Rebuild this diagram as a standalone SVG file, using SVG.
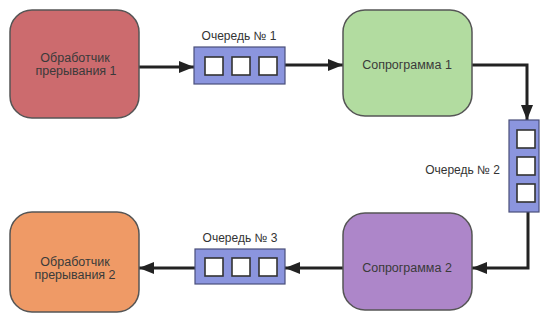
<svg xmlns="http://www.w3.org/2000/svg" width="542" height="321" viewBox="0 0 542 321">
<defs>
<style>
.node{stroke:#555;stroke-width:1.5}
.q{fill:#8b95de;stroke:#4a4f7a;stroke-width:1.2}
.sq{fill:#fff;stroke:#333;stroke-width:1.6}
.t{font-family:"Liberation Sans",Arial,sans-serif;font-size:12.5px;fill:#3a3a3a;text-anchor:middle}
.lbl{font-family:"Liberation Sans",Arial,sans-serif;font-size:12px;fill:#333}
.c{fill:none;stroke:#222;stroke-width:3}
</style>
<marker id="ah" markerWidth="15" markerHeight="12" refX="15" refY="6" orient="auto" markerUnits="userSpaceOnUse">
<path d="M0,0 L15,6 L0,12 Z" fill="#222"/>
</marker>
</defs>
<rect width="542" height="321" fill="#fff"/>
<g id="connectors">
<path class="c" d="M139,67 L194,67" marker-end="url(#ah)"/>
<path class="c" d="M285,65 L343,65" marker-end="url(#ah)"/>
<path class="c" d="M472,65 L527,65 L527,120" marker-end="url(#ah)"/>
<path class="c" d="M528,212 L528,268 L472,268" marker-end="url(#ah)"/>
<path class="c" d="M343,268 L285,268" marker-end="url(#ah)"/>
<path class="c" d="M195,268 L139,268" marker-end="url(#ah)"/>
</g>
<g id="handler1">
<rect class="node" x="10" y="10" width="129" height="108" rx="22" fill="#cc6b6e"/>
<text class="t" x="75" y="62">Обработчик</text>
<text class="t" x="76" y="75">прерывания 1</text>
</g>
<g id="queue1">
<text class="lbl" x="239" y="40" text-anchor="middle">Очередь № 1</text>
<rect class="q" x="194" y="47" width="91" height="37"/>
<rect class="sq" x="205" y="57" width="18" height="18"/>
<rect class="sq" x="232" y="57" width="18" height="18"/>
<rect class="sq" x="259" y="57" width="18" height="18"/>
</g>
<g id="coroutine1">
<rect class="node" x="343" y="10" width="129" height="106" rx="22" fill="#b2dca0"/>
<text class="t" x="407" y="69">Сопрограмма 1</text>
</g>
<g id="queue2">
<text class="lbl" x="500" y="174" text-anchor="end">Очередь № 2</text>
<rect class="q" x="509" y="120" width="30" height="92"/>
<rect class="sq" x="517" y="130" width="18" height="18"/>
<rect class="sq" x="517" y="157" width="18" height="18"/>
<rect class="sq" x="517" y="184" width="18" height="18"/>
</g>
<g id="coroutine2">
<rect class="node" x="343" y="213" width="129" height="97" rx="22" fill="#ad86c9"/>
<text class="t" x="407" y="272">Сопрограмма 2</text>
</g>
<g id="queue3">
<text class="lbl" x="240" y="242" text-anchor="middle">Очередь № 3</text>
<rect class="q" x="195" y="249" width="90" height="35"/>
<rect class="sq" x="205" y="258" width="18" height="18"/>
<rect class="sq" x="232" y="258" width="18" height="18"/>
<rect class="sq" x="259" y="258" width="18" height="18"/>
</g>
<g id="handler2">
<rect class="node" x="10" y="212" width="129" height="100" rx="22" fill="#ef9a66"/>
<text class="t" x="75" y="266">Обработчик</text>
<text class="t" x="75" y="279">прерывания 2</text>
</g>
</svg>
